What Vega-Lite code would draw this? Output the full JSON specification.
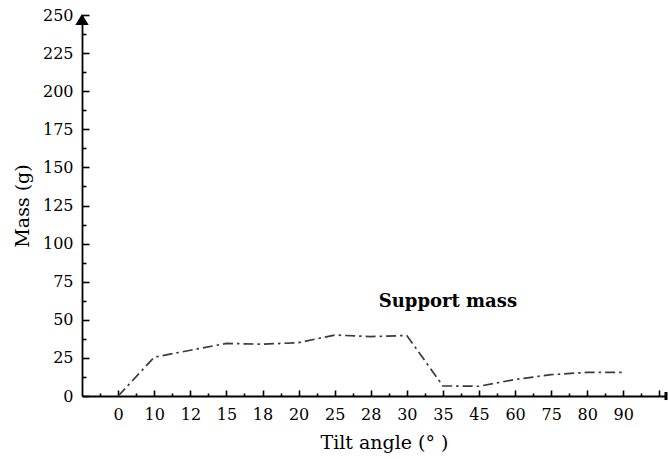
{
  "$schema": "https://vega.github.io/schema/vega-lite/v6.json",
  "width": 584,
  "height": 381,
  "autosize": {"type": "none"},
  "padding": {"left": 82, "top": 15, "right": 2, "bottom": 63},
  "background": "white",
  "config": {
    "view": {"stroke": null},
    "axis": {
      "grid": false,
      "domainColor": "black",
      "tickColor": "black",
      "labelColor": "black",
      "titleColor": "black",
      "labelFont": "DejaVu Serif",
      "titleFont": "DejaVu Serif",
      "titleFontWeight": "normal",
      "domainWidth": 1.8,
      "tickWidth": 1.6
    }
  },
  "layer": [
    {
      "data": {
        "values": [
          {"angle": "0", "mass": 0},
          {"angle": "10", "mass": 25.5},
          {"angle": "12", "mass": 30},
          {"angle": "15", "mass": 34.5},
          {"angle": "18", "mass": 34},
          {"angle": "20", "mass": 35},
          {"angle": "25", "mass": 40},
          {"angle": "28", "mass": 39},
          {"angle": "30", "mass": 39.7},
          {"angle": "35", "mass": 6.6},
          {"angle": "45", "mass": 6.4},
          {"angle": "60", "mass": 10.8},
          {"angle": "75", "mass": 14},
          {"angle": "80", "mass": 15.5},
          {"angle": "90", "mass": 15.5}
        ]
      },
      "mark": {"type": "line", "color": "#3a3a3a", "strokeWidth": 1.7, "strokeDash": [10, 4, 2.5, 4]},
      "encoding": {
        "x": {
          "field": "angle",
          "type": "ordinal",
          "sort": null,
          "scale": {"type": "point", "domain": ["0", "10", "12", "15", "18", "20", "25", "28", "30", "35", "45", "60", "75", "80", "90", ""], "padding": 0.594, "align": 0.845},
          "axis": {
            "orient": "bottom",
            "title": "Tilt angle (°  )",
            "labelAngle": 0,
            "labelFontSize": 16,
            "labelPadding": 16,
            "tickSize": -6,
            "titleFontSize": 19,
            "titleX": 302,
            "titlePadding": 11
          }
        },
        "y": {
          "field": "mass",
          "type": "quantitative",
          "scale": {"domain": [0, 250], "nice": false},
          "axis": {
            "orient": "left",
            "values": [0, 25, 50, 75, 100, 125, 150, 175, 200, 225, 250],
            "tickSize": -7,
            "labelFontSize": 16,
            "labelPadding": 16,
            "title": "Mass (g)",
            "titleFontSize": 19,
            "titlePadding": 10
          }
        }
      }
    },
    {
      "data": {"values": [{"label": "Support mass"}]},
      "mark": {"type": "text", "font": "DejaVu Serif", "fontWeight": "bold", "fontSize": 18, "align": "left", "baseline": "alphabetic", "dx": 8, "color": "black"},
      "encoding": {
        "text": {"field": "label"},
        "x": {
          "datum": "28",
          "type": "ordinal",
          "scale": {"type": "point", "domain": ["0", "10", "12", "15", "18", "20", "25", "28", "30", "35", "45", "60", "75", "80", "90", ""], "padding": 0.594, "align": 0.845},
          "axis": {"orient": "bottom", "tickOffset": -18.04, "tickSize": -3, "labels": false, "domain": false, "title": null}
        },
        "y": {
          "datum": 58.7,
          "type": "quantitative",
          "axis": {"orient": "left", "values": [12.5, 37.5, 62.5, 87.5, 112.5, 137.5, 162.5, 187.5, 212.5, 237.5], "tickSize": -4, "labels": false, "domain": false, "title": null}
        }
      }
    },
    {
      "data": {"values": [{"end": "top"}]},
      "mark": {"type": "point", "shape": "M-1,1.5L1,1.5L0,-0.15Z", "filled": true, "color": "black", "opacity": 1, "size": 180},
      "encoding": {
        "x": {"datum": 0, "type": "quantitative", "scale": {"domain": [0, 1]}, "axis": null},
        "y": {"datum": 250, "type": "quantitative", "axis": null}
      }
    },
    {
      "data": {"values": [{"end": "right"}]},
      "mark": {"type": "point", "shape": "M-0.5,-1.35L0.5,-1.35L0.5,1.35L-0.5,1.35Z", "filled": true, "color": "black", "opacity": 1, "size": 36},
      "encoding": {
        "x": {"datum": 1, "type": "quantitative", "scale": {"domain": [0, 1]}, "axis": null},
        "y": {"datum": 0, "type": "quantitative", "axis": null}
      }
    }
  ],
  "resolve": {"scale": {"x": "independent"}, "axis": {"x": "independent", "y": "independent"}}
}
